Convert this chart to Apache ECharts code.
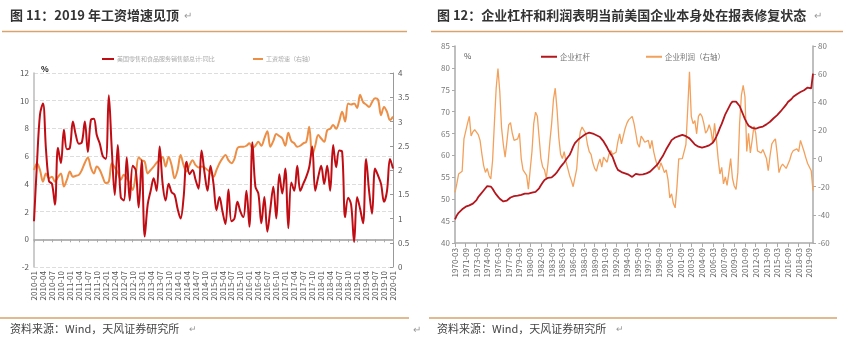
<!DOCTYPE html>
<html lang="zh-CN">
<head>
<meta charset="utf-8">
<title>图11 / 图12</title>
<style>
  * { margin: 0; padding: 0; }
  #chart-container { width: 853px; height: 352px; background: #fff; }
</style>
</head>
<body>
<div id="chart-container"></div>
<script src="https://cdn.jsdelivr.net/npm/echarts@6/dist/echarts.min.js"></script>
<script>
// ---------- 图 11 数据（月度，2010-01 ~ 2020-01）----------
var retailYoY = [
  1.3, 5.5, 9.0, 9.8, 6.5, 4.2, 4.0, 2.5, 6.6, 5.5,
  7.9, 6.5, 6.6, 8.5, 7.5, 6.9, 7.0, 8.5, 6.3, 8.6,
  8.7, 7.5, 6.9, 6.0, 5.8, 10.4, 6.5, 3.2, 6.8, 3.05,
  2.8, 5.9, 2.8, 5.3, 5.0, 2.3, 5.7, 0.2, 2.5, 3.5,
  4.4, 3.5, 6.7, 4.0, 2.8, 4.0, 3.4, 3.2, 2.2, 1.5,
  3.0, 5.6, 4.7, 5.0, 4.3, 3.65, 6.4, 4.8, 3.5, 5.3,
  4.0, 2.1, 3.05, 2.0, 1.1, 3.6, 1.3, 1.5, 2.7, 2.0,
  1.6, 3.5, 0.9, 7.0, 3.8, 3.3, 1.15, 3.05, 0.55, 2.2,
  3.8, 1.5, 4.7, 3.3, 5.1, 0.8, 4.1, 3.5, 5.3, 3.5,
  4.0, 4.5, 5.2, 6.7, 3.5, 4.5, 5.3, 4.0, 5.3, 3.5,
  6.8, 5.2, 6.4, 6.3, 1.6, 3.0, 2.5, -0.2, 3.05, 2.2,
  1.15, 5.8, 3.5, 1.85, 5.1, 4.6, 4.0, 2.7, 3.5, 5.8,
  5.1
];
var wageGrowth = [
  2.0, 2.14, 2.0, 1.76, 1.93, 1.83, 1.86, 1.76, 1.85, 1.93,
  1.66, 1.8, 1.97, 1.86, 1.88, 1.9, 2.0, 2.15, 2.26, 2.05,
  1.93, 2.07, 2.0, 1.85, 1.73, 1.76, 2.14, 2.05, 1.95, 1.8,
  1.9, 1.83, 1.73, 1.59, 1.9, 2.26, 2.2, 2.17, 1.93, 2.0,
  2.07, 2.15, 2.2, 2.27, 2.07, 2.27, 2.1, 1.83, 2.0, 2.31,
  2.1, 1.97, 2.1, 2.2, 2.1, 2.05, 2.07, 2.05, 2.0, 1.95,
  1.86, 2.0, 2.14, 2.24, 2.31, 2.2, 2.14, 2.23, 2.45, 2.48,
  2.48, 2.5, 2.55, 2.45, 2.5, 2.58, 2.5, 2.65, 2.8, 2.48,
  2.6, 2.74, 2.7, 2.65, 2.5, 2.77, 2.6, 2.55, 2.48, 2.5,
  2.55, 2.58, 2.89, 2.3, 2.5, 2.72, 2.65, 2.58, 2.82, 2.85,
  2.93, 2.85, 3.0, 3.2, 3.0, 3.37, 3.35, 3.37, 3.28, 3.55,
  3.4, 3.35, 3.3, 3.4, 3.48, 3.45, 3.13, 3.3, 3.2, 3.03,
  3.1
];

// ---------- 图 12 数据（季度，1970-03 ~ 2020-03）----------
var leverage = [
  45.4, 46.3, 46.9, 47.3, 47.7, 48.1, 48.3, 48.4, 48.6, 48.7,
  49.0, 49.3, 49.8, 50.5, 51.0, 51.3, 52.0, 52.5, 53.0, 53.1,
  52.9, 52.4, 51.7, 51.1, 50.6, 50.1, 49.8, 49.5, 49.4, 49.7,
  50.1, 50.4, 50.3, 50.7, 51.0, 50.8, 50.4, 51.0, 51.2, 51.3,
  51.5, 51.3, 51.6, 51.5, 51.8, 51.7, 52.0, 52.5, 53.2, 53.8,
  54.4, 54.7, 54.9, 55.1, 55.0, 55.3, 55.7, 56.2, 56.8, 57.4,
  57.9, 58.4, 59.0, 59.6, 60.1, 61.0, 62.0, 62.8, 63.2, 63.7,
  64.0, 64.3, 64.6, 64.9, 65.1, 65.2, 65.1, 65.0, 64.8, 64.6,
  64.5, 64.2, 63.8, 63.2, 62.5, 61.8, 61.0, 60.3, 59.7, 58.6,
  57.5, 56.7, 56.3, 56.2, 56.1, 55.9, 55.8, 55.6, 55.3, 55.1,
  55.4, 55.8, 55.9, 55.6, 55.5, 55.7, 55.8, 55.9, 56.0, 56.3,
  56.7, 57.1, 57.5, 57.9, 58.5, 59.2, 59.8, 60.6, 61.4, 62.1,
  62.8, 63.5, 63.9, 64.1, 64.2, 64.4, 64.6, 64.7, 64.6, 64.4,
  64.2, 63.9, 63.5, 63.0, 62.5, 62.2, 62.0, 61.9, 61.8, 61.9,
  62.0, 62.1, 62.3, 62.6, 62.9, 63.5, 64.3, 65.2, 66.3, 67.2,
  68.3, 69.4, 70.2, 71.0, 71.8, 72.3, 72.4, 72.3, 72.0, 71.3,
  70.3, 69.3, 68.3, 67.5, 66.8, 66.4, 66.3, 66.2, 66.1, 66.2,
  66.4, 66.3, 66.6, 66.9, 67.1, 67.4, 67.7, 68.0, 68.5, 68.8,
  69.2, 69.6, 70.1, 70.6, 71.1, 71.6, 72.2, 72.4, 72.9, 73.4,
  73.6, 74.0, 74.2, 74.5, 74.8, 74.9, 75.2, 75.5, 75.6, 75.3,
  78.7
];
var profit = [
  -24.1, -18, -11, -10, -9, 14, 13, 25, 30, 16,
  19, 20.5, 21, 17, 12.9, 3.4, -5, -9.8, -7, -12,
  -14.5, -1.4, 25, 50, 64, 48, 22, 10, 1, 12,
  24, 25.5, 18, 13, 12, 14, 18, 0, -8, -10,
  -12, -21.7, -8, 5, 25, 33, 30, 15, 0, -6,
  -8, -14, -3, 12, 25, 42, 50, 35, 15, 3,
  0, 5, -2, -7, -12, -15.7, -20, -20, -7.4, 10,
  19, 22.4, 21, 18, 10, 5, 3, -3, -7, -9,
  -3.8, -0.2, -6, 1, -1, -2.6, 3, 5.7, 3, 2,
  4.5, 12, 17.6, 10.5, 16, 21.2, 25, 27.5, 28, 30,
  25, 18, 10.5, 8.1, 16, 14, 11.6, 12, 12.9, 7,
  12.9, 5, -0.5, -5, -8, -3, -6.2, -10, -8, -15,
  -28, -25, -32, -35, -20, -0.2, -0.2, 0, 1, 10,
  35, 61.6, 30, 24.8, 27, 17.6, 30, 31.9, 30, 25,
  18, 20, 24, 20, 11, 25, 14, 0, -11, -6.2,
  -18, -13, -19, -10, 0, -14, -19.5, -22, -10, 25,
  45, 52, 43.8, 5, 18, 4, 13, 23, 18, 5.5,
  6.9, 4, 6.5, 6, 0, -8.6, 2, 10.5, 12.5, 14,
  3.4, -10, -6, -4, -5, -7, -4, -1, 3.4, 5.7,
  4.5, 6.9, 5, 12.9, 13, 5, 0.5, -3.5, -2.6, -8.6,
  -22.9
];

// 横轴类目
function dateList(year, month, count, step) {
  var out = [];
  for (var i = 0; i < count; i++) {
    var m = month - 1 + i * step;
    var y = year + Math.floor(m / 12);
    var mm = (m % 12) + 1;
    out.push(y + '-' + (mm < 10 ? '0' + mm : mm));
  }
  return out;
}
var months = dateList(2010, 1, retailYoY.length, 1);
var quarters = dateList(1970, 3, leverage.length, 3);

var RED1 = '#C00D14';
var ORANGE1 = '#EC8E45';
var RED2 = '#B3161D';
var ORANGE2 = '#F2A15C';
var RULE = '#D9A36B';
var CJK = '"Noto Sans CJK SC", sans-serif';

var dom = document.getElementById('chart-container');
var myChart = echarts.init(dom, null, { renderer: 'canvas' });

function txt(x, y, s, font, fill, align) {
  return {
    type: 'text', silent: true,
    style: { x: x, y: y, text: s, font: font, fill: fill,
             textAlign: align || 'left', verticalAlign: 'middle', textVerticalAlign: 'middle' }
  };
}
function rule(x1, x2, y) {
  return { type: 'line', silent: true, shape: { x1: x1, y1: y, x2: x2, y2: y },
           style: { stroke: RULE, lineWidth: 1.5 } };
}

var option = {
  animation: false,
  textStyle: { fontFamily: CJK },
  graphic: [
    txt(10, 15, '图 11：2019 年工资增速见顶', 'bold 13px ' + CJK, '#333'),
    txt(184, 15, '↵', '10px ' + CJK, '#999'),
    txt(437, 15, '图 12：企业杠杆和利润表明当前美国企业本身处在报表修复状态', 'bold 13px ' + CJK, '#333'),
    txt(814, 15, '↵', '10px ' + CJK, '#999'),
    rule(2, 407, 31.5),
    rule(431, 843, 31.5),
    rule(0, 409, 318),
    rule(429, 837, 318),
    txt(10, 329, '资料来源：Wind，天风证券研究所', '11px ' + CJK, '#444'),
    txt(189, 329, '↵', '9px ' + CJK, '#999'),
    txt(413, 329, '↵', '10px ' + CJK, '#999'),
    txt(437, 329, '资料来源：Wind，天风证券研究所', '11px ' + CJK, '#444'),
    txt(616, 329, '↵', '9px ' + CJK, '#999'),
    txt(41, 69, '%', 'bold 8px ' + CJK, '#111'),
    txt(464, 56, '%', '8px ' + CJK, '#555')
  ],
  legend: [
    {
      data: ['美国零售和食品服务销售额总计:同比'], left: 97, top: 51,
      icon: 'rect', itemWidth: 12, itemHeight: 2, itemGap: 4,
      textStyle: { fontSize: 6, color: '#aaa', padding: [0, 0, 0, -2] }
    },
    {
      data: ['工资增速（右轴）'], left: 248, top: 51,
      icon: 'rect', itemWidth: 10, itemHeight: 2,
      textStyle: { fontSize: 6, color: '#aaa', padding: [0, 0, 0, -2] }
    },
    {
      data: ['企业杠杆'], left: 536, top: 48,
      icon: 'rect', itemWidth: 16, itemHeight: 2,
      textStyle: { fontSize: 7.5, color: '#777', padding: [0, 0, 0, -2] }
    },
    {
      data: ['企业利润（右轴）'], left: 641, top: 48,
      icon: 'rect', itemWidth: 16, itemHeight: 2,
      textStyle: { fontSize: 7.5, color: '#777', padding: [0, 0, 0, -2] }
    }
  ],
  grid: [
    { left: 34, top: 73, width: 359, height: 194 },
    { left: 455, top: 46, width: 358, height: 197 }
  ],
  xAxis: [
    {
      type: 'category', gridIndex: 0, data: months, boundaryGap: false,
      axisLine: { onZero: true, lineStyle: { color: '#b5b5b5', width: 2 } },
      axisTick: { interval: 2, length: 3, lineStyle: { color: '#aaa' } },
      axisLabel: { interval: 2, rotate: 90, fontSize: 8, color: '#555', margin: 4 }
    },
    {
      type: 'category', gridIndex: 1, data: quarters, boundaryGap: false,
      axisLine: { onZero: false, lineStyle: { color: '#aaa', width: 1.5 } },
      axisTick: { interval: 5, length: 4, lineStyle: { color: '#aaa' } },
      axisLabel: { interval: 5, rotate: 90, fontSize: 8, color: '#666', margin: 5 }
    }
  ],
  yAxis: [
    {
      type: 'value', gridIndex: 0, min: -2, max: 12, interval: 2,
      axisLine: { show: true, lineStyle: { color: '#bbb', width: 1.5 } },
      axisTick: { show: false },
      axisLabel: { fontSize: 8, color: '#555', margin: 5 },
      splitLine: { show: true, lineStyle: { color: '#ddd', type: 'dashed' } }
    },
    {
      type: 'value', gridIndex: 0, position: 'right', min: 0, max: 4, interval: 0.5,
      axisLine: { show: true, lineStyle: { color: '#999' } },
      axisTick: { show: true, inside: true, length: 3, lineStyle: { color: '#999' } },
      axisLabel: { fontSize: 8, color: '#555', margin: 5 },
      splitLine: { show: false }
    },
    {
      type: 'value', gridIndex: 1, min: 40, max: 85, interval: 5,
      axisLine: { show: true, lineStyle: { color: '#aaa', width: 1.5 } },
      axisTick: { show: true, length: 3, lineStyle: { color: '#aaa' } },
      axisLabel: { fontSize: 8, color: '#777', margin: 5 },
      splitLine: { show: false }
    },
    {
      type: 'value', gridIndex: 1, position: 'right', min: -60, max: 80, interval: 20,
      axisLine: { show: true, lineStyle: { color: '#aaa', width: 1.5 } },
      axisTick: { show: true, length: 3, lineStyle: { color: '#aaa' } },
      axisLabel: { fontSize: 8, color: '#777', margin: 5 },
      splitLine: { show: false }
    }
  ],
  series: [
    {
      name: '美国零售和食品服务销售额总计:同比', type: 'line',
      xAxisIndex: 0, yAxisIndex: 0, data: retailYoY,
      showSymbol: false, smooth: 0.35, z: 3,
      itemStyle: { color: RED1 }, lineStyle: { color: RED1, width: 2 }
    },
    {
      name: '工资增速（右轴）', type: 'line',
      xAxisIndex: 0, yAxisIndex: 1, data: wageGrowth,
      showSymbol: false, smooth: 0.35, z: 2,
      itemStyle: { color: ORANGE1 }, lineStyle: { color: ORANGE1, width: 2 }
    },
    {
      name: '企业杠杆', type: 'line',
      xAxisIndex: 1, yAxisIndex: 2, data: leverage,
      showSymbol: false, z: 3,
      itemStyle: { color: RED2 }, lineStyle: { color: RED2, width: 1.8 }
    },
    {
      name: '企业利润（右轴）', type: 'line',
      xAxisIndex: 1, yAxisIndex: 3, data: profit,
      showSymbol: false, z: 2,
      itemStyle: { color: ORANGE2 }, lineStyle: { color: ORANGE2, width: 1.3 }
    }
  ]
};

myChart.setOption(option);
window.addEventListener('resize', myChart.resize);
</script>
</body>
</html>
